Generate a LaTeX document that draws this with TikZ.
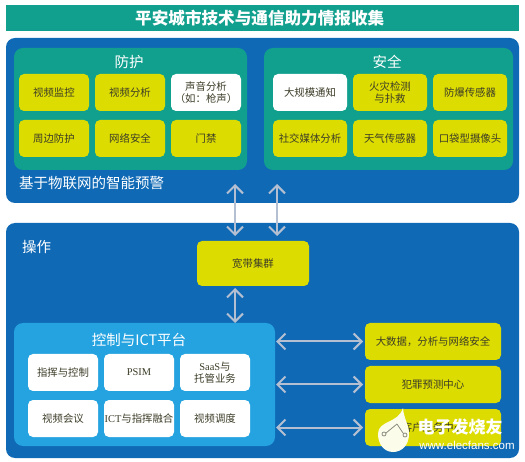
\documentclass[tikz,border=0pt]{standalone}
\usepackage{fontspec}
\setmainfont{Noto Sans CJK SC}
\newfontfamily\latinfont{Liberation Serif}
\newfontfamily\marksans{Liberation Sans}
\usetikzlibrary{positioning,arrows.meta}
\definecolor{cityblue}{HTML}{0F69B5}
\definecolor{cityteal}{HTML}{12A08E}
\definecolor{citysky}{HTML}{25A3E0}
\definecolor{cityyellow}{HTML}{DCDC00}
\definecolor{cityarrow}{HTML}{B4C0D2}
\definecolor{citytext}{HTML}{3C3C28}
\tikzset{>={Straight Barb[length=8pt,width=16pt,line width=2pt]}}

\begin{document}
\begin{tikzpicture}[
    x=1pt, y=-1pt,
    node distance=6pt,
    panel/.style={rounded corners=9pt, minimum height=0pt, inner sep=0pt, outer sep=0pt},
    bluepanel/.style={panel, fill=cityblue, minimum width=513pt},
    tealpanel/.style={panel, fill=cityteal, minimum height=122pt},
    item/.style={rounded corners=5pt, inner sep=0pt, outer sep=0pt, align=center, minimum height=37pt,
        font=\fontsize{10.4}{12.5}\selectfont, text=citytext},
    yellowitem/.style={item, fill=cityyellow, minimum width=70pt},
    whiteitem/.style={item, fill=white, minimum width=70pt},
    heading/.style={text=white, font=\fontsize{14.5}{16}\selectfont, inner sep=0pt},
    twoway/.style={<->, cityarrow, line width=2pt}
]
\useasboundingbox (0,0) rectangle (525,462);

% title
\node[fill=cityteal, minimum width=513pt, minimum height=26pt, inner sep=0pt, anchor=north west,
    text=white, font=\fontsize{16.6}{18}\selectfont\bfseries] (title) at (6,5) {平安城市技术与通信助力情报收集\hspace*{6pt}};

% upper block
\node[bluepanel, minimum height=165pt, anchor=north west] (iot) at (6,38) {};
\node[tealpanel, minimum width=233pt, anchor=north west] (protect) at (14,48) {};
\node[tealpanel, minimum width=249pt, anchor=north west] (safety) at (264,48) {};
\node[heading] at (129,62) (protecthead) {防护};
\node[heading] at (387,62) (safetyhead) {安全};
\node[heading, anchor=west] at (19,183) (iothead) {基于物联网的智能预警};

\node[yellowitem, anchor=north west] (cctv) at (19,74) {视频监控};
\node[yellowitem, right=of cctv] (analytics) {视频分析};
\node[whiteitem, right=of analytics] (audio) {声音分析\\（如：枪声）};
\node[yellowitem, below=9pt of cctv] (perimeter) {周边防护};
\node[yellowitem, right=of perimeter] (netsec) {网络安全};
\node[yellowitem, right=of netsec] (access) {门禁};

\node[whiteitem, minimum width=74pt, anchor=north west] (notify) at (273,74) {大规模通知};
\node[yellowitem, minimum width=74pt, right=of notify] (fire) {火灾检测\\与扑救};
\node[yellowitem, minimum width=74pt, right=of fire] (blast) {防爆传感器};
\node[yellowitem, minimum width=74pt, below=9pt of notify] (social) {社交媒体分析};
\node[yellowitem, minimum width=74pt, right=of social] (weather) {天气传感器};
\node[yellowitem, minimum width=74pt, right=of weather] (pocket) {口袋型摄像头};

% lower block
\node[bluepanel, minimum height=235pt, anchor=north west] (ops) at (6,223) {};
\node[heading, anchor=west] at (22,247) (opshead) {操作};
\node[yellowitem, minimum width=112pt, minimum height=45pt, anchor=north west] (lte) at (197,241) {宽带集群};
\node[panel, fill=citysky, minimum width=261pt, minimum height=123pt, anchor=north west] (platform) at (14,323) {};
\node[heading] at (139,340) (platformhead) {控制与ICT平台};

\node[whiteitem, anchor=north west] (command) at (28,354) {指挥与控制};
\node[whiteitem, right=of command] (psim) {\latinfont PSIM};
\node[whiteitem, right=of psim] (saas) {{\latinfont SaaS}与\\托管业务};
\node[whiteitem, below=9pt of command] (video) {视频会议};
\node[whiteitem, right=of video] (fusion) {{\latinfont ICT}与指挥融合};
\node[whiteitem, right=of fusion] (dispatch) {视频调度};

\node[yellowitem, minimum width=136pt, anchor=north west] (bigdata) at (365,323) {大数据，分析与网络安全};
\node[yellowitem, minimum width=136pt, below=of bigdata] (crime) {犯罪预测中心};
\node[yellowitem, minimum width=136pt, below=of crime] (expert) {客户服务中心};

% arrows
\coordinate (alertA) at (235,184);
\coordinate (alertB) at (277,184);
\draw[twoway, shorten >=5pt] (alertA) -- (alertA |- lte.north);
\draw[twoway, shorten >=5pt] (alertB) -- (alertB |- lte.north);
\draw[twoway, shorten <=2pt] (alertA |- lte.south) -- (alertA |- platform.north);
\draw[twoway, shorten <=1pt, shorten >=2pt] (platform.east |- bigdata) -- (bigdata.west);
\draw[twoway, shorten <=1pt, shorten >=2pt] (platform.east |- crime) -- (crime.west);
\draw[twoway, shorten <=1pt, shorten >=2pt] (platform.east |- expert) -- (expert.west);

% watermark
\fill[white!92!cityyellow] (403,408) .. controls (404,420) and (409,424) .. (409,434)
    .. controls (409,445) and (402,452) .. (393,452)
    .. controls (384,452) and (378,444) .. (378,434)
    .. controls (378,420) and (398,424) .. (403,408);
\draw[citytext!60, line width=0.8pt] (384,434) circle (2pt) (405,435) circle (2pt)
    (386,433) -- (397,424) (397,424) -- (403,433);
\node[text=white, font=\fontsize{17}{18}\selectfont\bfseries, inner sep=0pt] (markname) at (460,427) {电子发烧友};
\node[text=white, font=\marksans\fontsize{11.5}{12}\selectfont, inner sep=0pt] (markurl) at (467,445) {www.elecfans.com};
\end{tikzpicture}
\end{document}
